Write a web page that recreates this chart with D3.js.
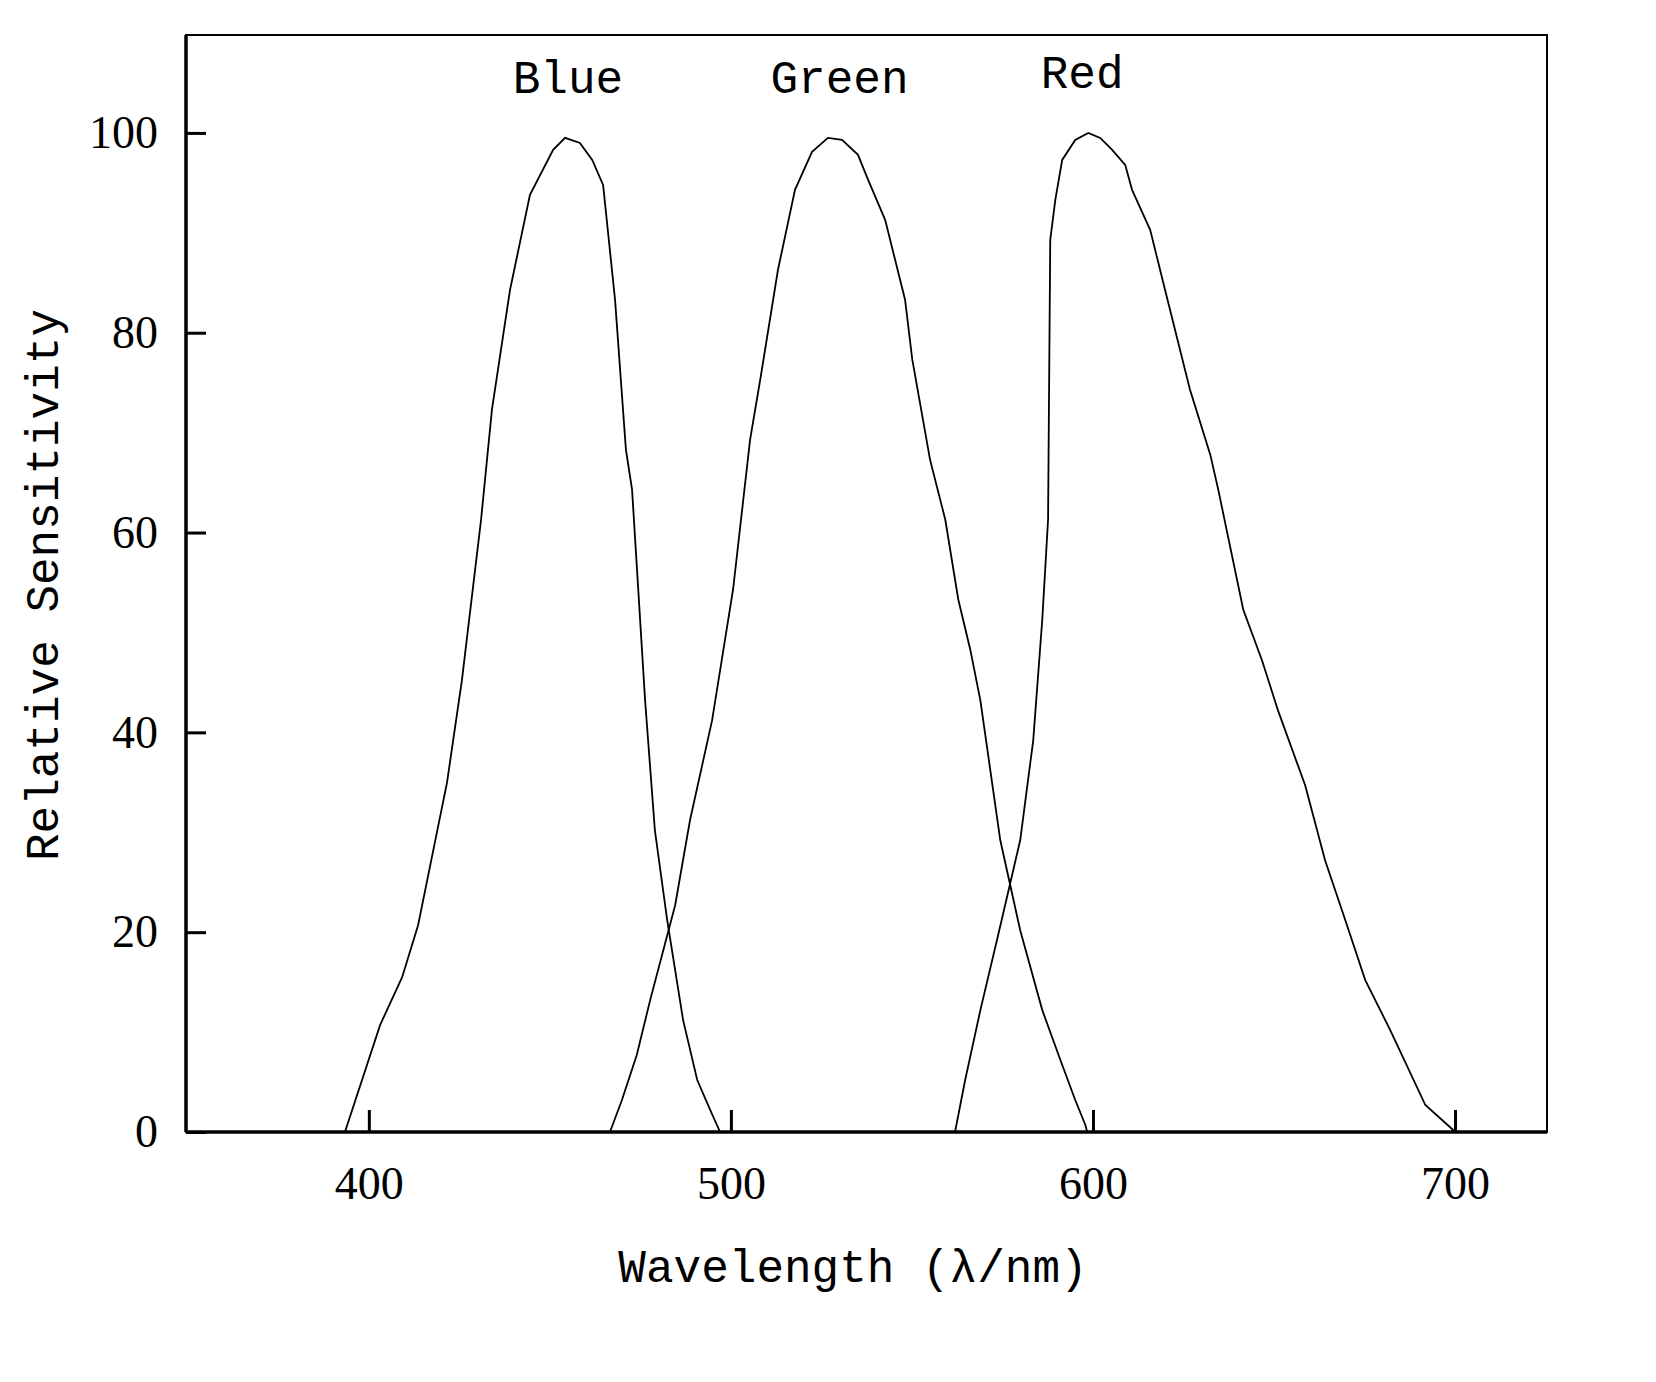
<!DOCTYPE html>
<html><head><meta charset="utf-8">
<script src="https://cdn.jsdelivr.net/npm/d3@7"></script>
<style>body{margin:0;background:#fff}</style>
</head><body>
<svg id="chart" width="1656" height="1382"></svg>
<script>
// sensitivity curves: [wavelength nm, relative sensitivity]
const blue = [[393.4,0],[403.1,10.7],[409.2,15.5],[413.6,20.7],[421.6,35],[425.7,45.2],[431,61.3],[434,72.3],[439,84.3],[444.5,93.8],[450.9,98.3],[454.2,99.5],[458.3,99],[461.7,97.3],[464.7,94.8],[468,83.3],[471,68.3],[472.7,64.3],[476.3,43.2],[479,30.2],[482.4,21.2],[486.8,11.2],[490.7,5.2],[494.3,2.2],[497,0]];
const green = [[466.6,0],[469.9,3.2],[474,7.7],[477.7,13.2],[484.6,22.7],[488.7,31.2],[494.8,41.2],[500.6,54.3],[505.3,69.3],[508.1,75.3],[513,86.3],[517.7,94.3],[522.4,98.1],[526.8,99.5],[530.7,99.3],[535.1,97.8],[537.9,95.3],[542.6,91.3],[548.1,83.3],[550.1,77.3],[555,67.3],[559.2,61.3],[562.8,53.3],[566.1,48.3],[568.9,43.2],[574.4,29.2],[579.9,20.2],[586,12.2],[591,7.2],[595.1,3.2],[597.9,0.7],[598.4,0]];
const red = [[561.9,0],[564.7,5.2],[568.9,12.2],[573.8,19.7],[579.9,29.2],[583.5,39.2],[586,51.3],[587.6,61.3],[588.2,89.3],[589.6,93.3],[591.5,97.3],[595.1,99.3],[598.7,100],[602,99.5],[605.3,98.3],[608.9,96.8],[610.8,94.3],[615.8,90.3],[619.9,84.3],[626.8,74.3],[632.4,67.8],[634.6,64.3],[641.5,52.3],[646.7,47.2],[651.1,42.2],[658.6,34.7],[664.1,27.2],[669.7,21.2],[675.2,15.2],[682.1,10.2],[691.8,2.7],[700.1,0]];
const seriesNames = ["Blue", "Green", "Red"];
const labelPos = [[455, 104], [530, 104], [597, 104.5]];
const xTicks = [400, 500, 600, 700];
const yTicks = [0, 20, 40, 60, 80, 100];

const svg = d3.select("#chart");
const pLeft = 186, pRight = 1547, pTop = 35, pBottom = 1132;
const x = d3.scaleLinear().domain([349.5, 725.4]).range([pLeft, pRight]);
const y = d3.scaleLinear().domain([0, 109.8]).range([pBottom, pTop]);
const serif = "'Liberation Serif', 'DejaVu Serif', serif";
const mono = "'Liberation Mono', 'DejaVu Sans Mono', monospace";

// frame
svg.append("rect").attr("x", pLeft).attr("y", pTop)
	.attr("width", pRight - pLeft).attr("height", pBottom - pTop)
	.attr("fill", "none").attr("stroke", "#000").attr("stroke-width", 2);
svg.append("line").attr("x1", pLeft).attr("x2", pRight).attr("y1", pBottom).attr("y2", pBottom)
	.attr("stroke", "#000").attr("stroke-width", 3.5);
svg.append("line").attr("x1", pLeft).attr("x2", pLeft).attr("y1", pTop).attr("y2", pBottom)
	.attr("stroke", "#000").attr("stroke-width", 3.5);

// axes with inward ticks
const xAxis = svg.append("g").attr("transform", `translate(0,${pBottom})`)
	.call(d3.axisBottom(x).tickValues(xTicks).tickSizeInner(-22).tickSizeOuter(0).tickPadding(34));
const yAxis = svg.append("g").attr("transform", `translate(${pLeft},0)`)
	.call(d3.axisLeft(y).tickValues(yTicks).tickSizeInner(-20).tickSizeOuter(0).tickPadding(28));
[xAxis, yAxis].forEach(function (a) {
	a.select(".domain").remove();
	a.selectAll(".tick line").attr("stroke", "#000").attr("stroke-width", 3);
	a.selectAll("text").attr("font-family", serif).attr("font-size", 46).attr("fill", "#000");
});

// curves
const line = d3.line().x(d => x(d[0])).y(d => y(d[1]));
[blue, green, red].forEach(function (s) {
	svg.append("path").datum(s).attr("d", line)
		.attr("fill", "none").attr("stroke", "#000").attr("stroke-width", 1.8);
});

// curve labels
seriesNames.forEach(function (name, i) {
	svg.append("text").attr("x", x(labelPos[i][0])).attr("y", y(labelPos[i][1]))
		.attr("text-anchor", "middle").attr("font-family", mono).attr("font-size", 46)
		.text(name);
});

// axis titles
svg.append("text").attr("x", 853).attr("y", 1282).attr("text-anchor", "middle")
	.attr("font-family", mono).attr("font-size", 46).text("Wavelength (λ/nm)");
svg.append("text").attr("transform", "translate(58,585) rotate(-90)").attr("text-anchor", "middle")
	.attr("font-family", mono).attr("font-size", 46).text("Relative Sensitivity");
</script>
</body></html>
